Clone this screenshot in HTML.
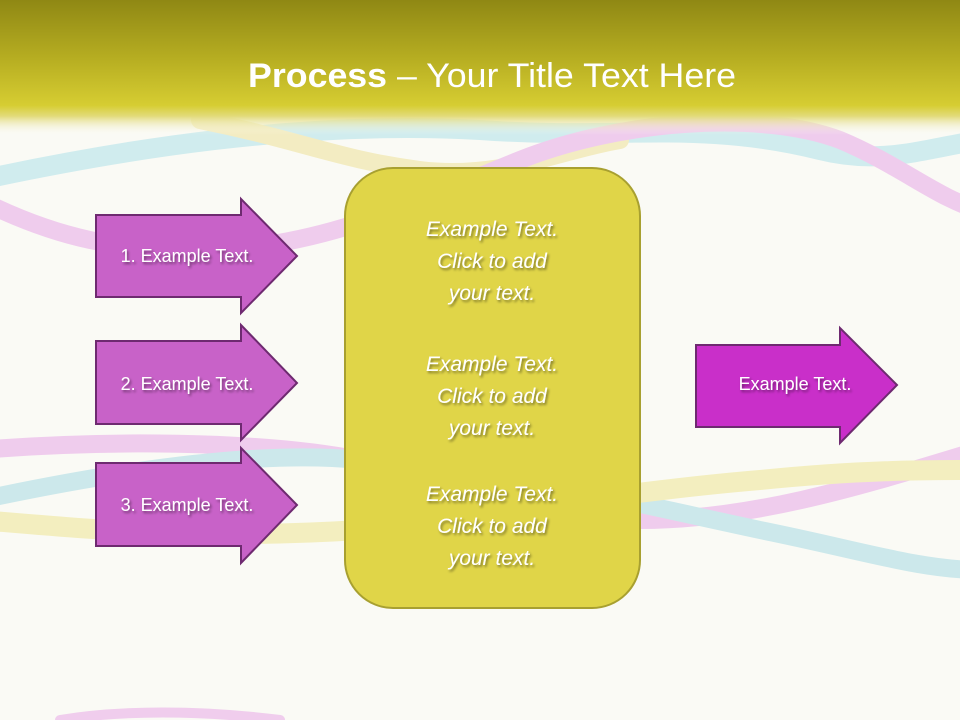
<!DOCTYPE html>
<html><head><meta charset="utf-8"><style>
html,body{margin:0;padding:0;width:960px;height:720px;overflow:hidden;background:#fafaf5}
svg text{font-family:"Liberation Sans",sans-serif}
</style></head><body>
<svg width="960" height="720" viewBox="0 0 960 720" xmlns="http://www.w3.org/2000/svg">
<defs>
<linearGradient id="hdr" x1="0" y1="0" x2="0" y2="1">
<stop offset="0" stop-color="#8f8814"/>
<stop offset="0.45" stop-color="#b8af22"/>
<stop offset="0.78" stop-color="#d6cd32"/>
<stop offset="0.86" stop-color="#e2db7a"/>
<stop offset="1" stop-color="#fafaf5" stop-opacity="0"/>
</linearGradient>
<filter id="sh"><feDropShadow dx="1.5" dy="2" stdDeviation="1.2" flood-color="#000" flood-opacity="0.45"/></filter>
</defs>
<rect width="960" height="720" fill="#fafaf5"/>
<g fill="none" stroke-linecap="round" opacity="0.5">
<path d="M-20 180 C120 150 300 120 480 130 C620 140 700 120 820 150 C880 165 920 150 980 140" stroke="#a8dfe8" stroke-width="20"/>
<path d="M200 120 C300 140 340 160 420 170 C500 180 560 150 620 140" stroke="#eee090" stroke-width="18"/>
<path d="M-20 200 C60 240 120 250 200 250 C320 250 420 200 520 160 C620 120 760 110 840 140 C900 165 940 200 980 210" stroke="#e6a0e6" stroke-width="18"/>
<path d="M-20 450 C100 440 260 440 360 460 C460 480 540 520 640 520 C760 520 880 480 980 450" stroke="#e6a0e6" stroke-width="18"/>
<path d="M-20 500 C120 470 260 450 360 460 C500 470 620 500 760 530 C860 550 920 570 980 570" stroke="#9fd7e2" stroke-width="18"/>
<path d="M-20 520 C100 530 200 540 360 530 C520 510 640 490 760 480 C860 470 920 470 980 470" stroke="#eee48a" stroke-width="20"/>
<path d="M60 720 C120 710 200 710 280 720" stroke="#e6a0e6" stroke-width="10"/>
</g>
<rect x="0" y="0" width="960" height="135" fill="url(#hdr)"/>
<text x="492" y="87" text-anchor="middle" fill="#fff" font-size="34" textLength="488" lengthAdjust="spacingAndGlyphs"><tspan font-weight="bold">Process</tspan> – Your Title Text Here</text>
<g fill="#c862c8" stroke="#6e2a70" stroke-width="2">
<polygon points="96,215 241,215 241,199 297,256 241,313 241,297 96,297"/>
<polygon points="96,341 241,341 241,325 297,383 241,440 241,424 96,424"/>
<polygon points="96,463 241,463 241,448 297,505 241,563 241,546 96,546"/>
<polygon points="696,345 840,345 840,328 897,385 840,443 840,427 696,427" fill="#c92fc9"/>
</g>
<g fill="#fff" font-size="18" filter="url(#sh)">
<text x="187" y="262" text-anchor="middle">1. Example Text.</text>
<text x="187" y="390" text-anchor="middle">2. Example Text.</text>
<text x="187" y="511" text-anchor="middle">3. Example Text.</text>
<text x="795" y="390" text-anchor="middle">Example Text.</text>
</g>
<rect x="345" y="168" width="295" height="440" rx="48" ry="48" fill="#e0d548" stroke="#a8a030" stroke-width="2"/>
<g fill="#fff" font-size="21" font-style="italic" text-anchor="middle" filter="url(#sh)">
<text x="492" y="236">Example Text.</text>
<text x="492" y="268">Click  to add</text>
<text x="492" y="300">your text.</text>
<text x="492" y="371">Example Text.</text>
<text x="492" y="403">Click  to add</text>
<text x="492" y="435">your text.</text>
<text x="492" y="501">Example Text.</text>
<text x="492" y="533">Click  to add</text>
<text x="492" y="565">your text.</text>
</g>
</svg>
</body></html>
